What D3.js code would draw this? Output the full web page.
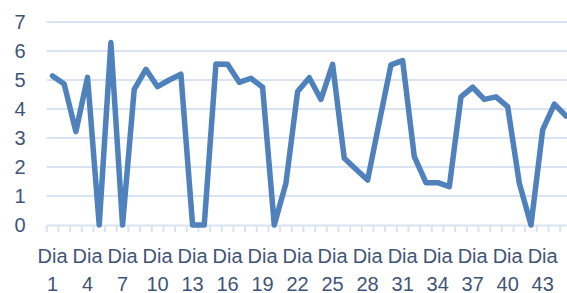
<!DOCTYPE html>
<html>
<head>
<meta charset="utf-8">
<script src="https://cdn.jsdelivr.net/npm/d3@7"></script>
<style>
  html, body { margin: 0; padding: 0; background: #fff; overflow: hidden; }
  svg { display: block; }
</style>
</head>
<body>
<div id="chart"></div>
<script>
// valores por dia (45 dias visiveis)
var days = d3.range(1, 46).map(function (d) { return 'Dia ' + d; });
var values = [
    5.14, 4.86, 3.22, 5.09, 0, 6.29, 0, 4.68, 5.37, 4.77,
    5.0, 5.2, 0, 0, 5.55, 5.54, 4.92, 5.06, 4.75, 0,
    1.44, 4.6, 5.08, 4.33, 5.54, 2.3, 1.92, 1.55, 3.55, 5.52,
    5.67, 2.36, 1.46, 1.46, 1.32, 4.42, 4.75, 4.33, 4.42, 4.08,
    1.44, 0, 3.28, 4.17, 3.76
];
var yTicks = [0, 1, 2, 3, 4, 5, 6, 7];

var W = 567, H = 293;
var plotLeft = 46.7, step = 11.67, plotTop = 22, plotBottom = 225;

var svg = d3.select('#chart').append('svg')
    .attr('width', W)
    .attr('height', H);

var x = d3.scaleBand()
    .domain(days)
    .range([plotLeft, plotLeft + step * days.length])
    .padding(0);

var y = d3.scaleLinear()
    .domain([0, 7])
    .range([plotBottom, plotTop]);

var font = '"Liberation Sans", Arial, sans-serif';
var textColor = '#3F5578';

// grelha
svg.append('g')
    .selectAll('line')
    .data(yTicks.filter(function (d) { return d > 0; }))
    .enter().append('line')
    .attr('x1', plotLeft)
    .attr('x2', W)
    .attr('y1', function (d) { return y(d); })
    .attr('y2', function (d) { return y(d); })
    .attr('stroke', '#D9E3F1')
    .attr('stroke-width', 2);

// eixo y (so etiquetas)
var yAxis = svg.append('g')
    .attr('transform', 'translate(' + plotLeft + ',0)')
    .call(d3.axisLeft(y).tickValues(yTicks).tickFormat(d3.format('d')).tickSize(0).tickPadding(21));
yAxis.select('.domain').remove();
yAxis.selectAll('text')
    .attr('fill', textColor)
    .style('font-family', font)
    .style('font-size', '20px');

// eixo x
var xAxis = svg.append('g')
    .attr('transform', 'translate(0,' + plotBottom + ')')
    .call(d3.axisBottom(x).tickSize(0).tickFormat(''));
xAxis.select('.domain')
    .attr('stroke', '#D9E3F1')
    .attr('stroke-width', 2);

// marcas entre categorias
xAxis.append('g')
    .selectAll('line')
    .data(days)
    .enter().append('line')
    .attr('x1', function (d) { return x(d); })
    .attr('x2', function (d) { return x(d); })
    .attr('y1', 0)
    .attr('y2', 7)
    .attr('stroke', '#D9E3F1')
    .attr('stroke-width', 2);

// etiquetas a cada 3 dias, em duas linhas
var labels = xAxis.append('g')
    .selectAll('text')
    .data(days.filter(function (d, i) { return i % 3 === 0; }))
    .enter().append('text')
    .attr('text-anchor', 'middle')
    .attr('fill', textColor)
    .style('font-family', font)
    .style('font-size', '20px')
    .attr('transform', function (d) {
        return 'translate(' + (x(d) + x.bandwidth() / 2) + ',0)';
    });
labels.append('tspan')
    .attr('x', 0)
    .attr('y', 38)
    .text(function (d) { return d.split(' ')[0]; });
labels.append('tspan')
    .attr('x', 0)
    .attr('y', 66)
    .text(function (d) { return d.split(' ')[1]; });

// linha
var line = d3.line()
    .x(function (d, i) { return x(days[i]) + x.bandwidth() / 2; })
    .y(function (d) { return y(d); });

svg.append('path')
    .datum(values)
    .attr('d', line)
    .attr('fill', 'none')
    .attr('stroke', '#4F81BD')
    .attr('stroke-width', 5.5)
    .attr('stroke-linejoin', 'round')
    .attr('stroke-linecap', 'round');
</script>
</body>
</html>
